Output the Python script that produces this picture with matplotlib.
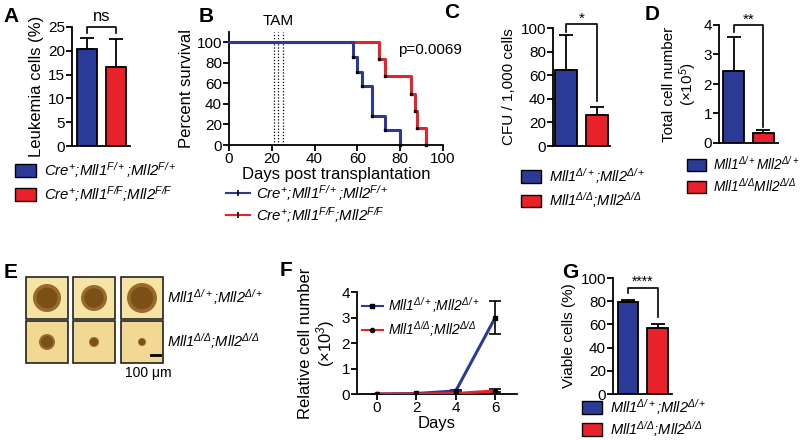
import matplotlib
matplotlib.use("Agg")
import matplotlib.pyplot as plt
from matplotlib.patches import Patch, Rectangle, Circle
from matplotlib.lines import Line2D

plt.rcParams['font.family'] = ['Liberation Sans', 'DejaVu Sans']
plt.rcParams['mathtext.fontset'] = 'custom'
plt.rcParams['mathtext.rm'] = 'Liberation Sans:italic'
plt.rcParams['mathtext.it'] = 'Liberation Sans:italic'
plt.rcParams['mathtext.bf'] = 'Liberation Sans:bold'
plt.rcParams['font.size'] = 11
plt.rcParams['axes.linewidth'] = 1.3
plt.rcParams['xtick.major.width'] = 1.3
plt.rcParams['ytick.major.width'] = 1.3
plt.rcParams['xtick.major.size'] = 4
plt.rcParams['ytick.major.size'] = 4

BLUE = '#2B3A97'
RED = '#E9212B'

# ---- data ----
# A: leukemia cells (%)
a_means = [20.3, 16.7]
a_errs = [2.4, 5.8]
# B: survival curves (days, percent)
b_blue_days = [0, 58, 60, 62, 67, 73, 80]
b_blue_surv = [100, 85.7, 71.4, 57.1, 28.6, 14.3, 0]
b_red_days = [0, 70, 73, 85, 87, 88, 92]
b_red_surv = [100, 83.3, 66.7, 50, 33.3, 16.7, 0]
tam_days = [21, 23, 25]
# C: CFU / 1,000 cells
c_means = [64, 26]
c_errs = [30, 7]
# D: total cell number (x10^5)
d_means = [2.45, 0.33]
d_errs = [1.13, 0.12]
# E: colony radii (px) per row
e_radii = [[14, 13, 15], [8, 5, 4]]
# F: relative cell number (x10^3)
f_days = [0, 2, 4, 6]
f_blue = [0.0, 0.02, 0.12, 3.0]
f_blue_err = [0, 0, 0.03, 0.65]
f_red = [0.0, 0.0, 0.02, 0.12]
f_red_err = [0, 0, 0.01, 0.06]
# G: viable cells (%)
g_means = [79.5, 57]
g_errs = [1.5, 3.5]

lab_cre = [r'Cre$^{+}$;Mll1$^{F/+}$;Mll2$^{F/+}$',
           r'Cre$^{+}$;Mll1$^{F/F}$;Mll2$^{F/F}$']
lab_del = [r'Mll1$^{\Delta/+}$;Mll2$^{\Delta/+}$',
           r'Mll1$^{\Delta/\Delta}$;Mll2$^{\Delta/\Delta}$']
lab_del2 = [r'Mll1$^{\Delta/+}$Mll2$^{\Delta/+}$',
            r'Mll1$^{\Delta/\Delta}$Mll2$^{\Delta/\Delta}$']

W, H = 800, 440
fig = plt.figure(figsize=(8, 4.4), dpi=100)


def box(l, t, r, b):
    return [l / W, 1 - b / H, (r - l) / W, (b - t) / H]


def clean(ax):
    ax.spines['top'].set_visible(False)
    ax.spines['right'].set_visible(False)
    ax.tick_params(direction='out', labelsize=11, pad=1)


def bars(ax, means, errs, width):
    x = [0, 1]
    ax.bar(x, means, width=width, color=[BLUE, RED], edgecolor='black', linewidth=1.3, zorder=2)
    ax.errorbar(x, means, yerr=[[0, 0], errs], fmt='none', ecolor='black',
                elinewidth=1.3, capsize=5, capthick=1.3, zorder=1)
    ax.set_xticks([])


def bracket(ax, y_left, y_top, y_right, text, fs=11, dy=0.0):
    ax.plot([0, 0, 1, 1], [y_left, y_top, y_top, y_right], color='black', lw=1.2, clip_on=False)
    ax.text(0.5, y_top + dy, text, ha='center', va='bottom', fontsize=fs)


def ital(size):
    return dict(style='italic', size=size)


def square_legend(labels, anchor, size=10.5, spacing=0.3):
    handles = [Patch(facecolor=c, edgecolor='black', linewidth=1.0) for c in (BLUE, RED)]
    fig.legend(handles, labels, loc='upper left', bbox_to_anchor=anchor,
               frameon=False, prop=ital(size), handlelength=1.4, handleheight=0.95,
               handletextpad=0.5, labelspacing=spacing, borderpad=0, borderaxespad=0)


# ---- A ----
axA = fig.add_axes(box(72, 27, 130, 146))
bars(axA, a_means, a_errs, 0.69)
axA.set_xlim(-0.52, 1.48)
axA.set_ylim(0, 25)
axA.set_yticks([0, 5, 10, 15, 20, 25])
axA.set_ylabel('Leukemia cells (%)', fontsize=12, labelpad=3)
clean(axA)
bracket(axA, 23.8, 25, 23.8, 'ns', fs=12, dy=0.6)
square_legend(lab_cre, (15 / W, 1 - 160 / H), 10.8)

# ---- B ----
axB = fig.add_axes(box(229, 32, 443, 145))
for d in tam_days:
    axB.plot([d, d], [0, 110], color='black', lw=0.9, ls=(0, (1, 1.5)), zorder=1)
axB.step(b_red_days, b_red_surv, where='post', color=RED, lw=2.2, clip_on=False, zorder=2)
axB.step(b_blue_days, b_blue_surv, where='post', color=BLUE, lw=2.2, clip_on=False, zorder=3)
axB.plot(b_red_days[1:], b_red_surv[1:], ls='none', marker='s', ms=1.8, color='black', zorder=4, clip_on=False)
axB.plot(b_blue_days[1:], b_blue_surv[1:], ls='none', marker='s', ms=1.8, color='black', zorder=4, clip_on=False)
axB.set_xlim(0, 100)
axB.set_ylim(0, 110)
axB.set_xticks([0, 20, 40, 60, 80, 100])
axB.set_yticks([0, 20, 40, 60, 80, 100])
axB.set_xlabel('Days post transplantation', fontsize=12, labelpad=1)
axB.set_ylabel('Percent survival', fontsize=12, labelpad=2)
clean(axB)
axB.text(23, 114, 'TAM', ha='center', va='bottom', fontsize=11)
axB.text(79, 92, 'p=0.0069', ha='left', va='center', fontsize=11)
b_handles = [Line2D([], [], color=c, lw=1.5, marker='|', ms=4, mec='black', mew=1.2) for c in (BLUE, RED)]
fig.legend(b_handles, lab_cre, loc='upper left', bbox_to_anchor=(226 / W, 1 - 183 / H),
           frameon=False, prop=ital(10.8), handlelength=1.6, handletextpad=0.4,
           labelspacing=0.15, borderpad=0, borderaxespad=0)

# ---- C ----
axC = fig.add_axes(box(553, 28, 610, 146))
bars(axC, c_means, c_errs, 0.72)
axC.set_xlim(-0.43, 1.44)
axC.set_ylim(0, 100)
axC.set_yticks([0, 20, 40, 60, 80, 100])
axC.set_ylabel('CFU / 1,000 cells', fontsize=11, labelpad=3)
clean(axC)
bracket(axC, 97, 103, 38, '*', fs=11, dy=-1)
square_legend(lab_del, (521 / W, 1 - 166 / H))

# ---- D ----
axD = fig.add_axes(box(719, 25, 778, 143))
bars(axD, d_means, d_errs, 0.71)
axD.set_xlim(-0.49, 1.5)
axD.set_ylim(0, 4)
axD.set_yticks([0, 1, 2, 3, 4])
axD.set_ylabel('Total cell number\n(×10$\\mathrm{^{5}}$)', fontsize=11, labelpad=3, linespacing=1.1)
clean(axD)
bracket(axD, 3.75, 4.0, 0.55, '**', fs=11, dy=-0.05)
square_legend(lab_del2, (687 / W, 1 - 155 / H), 9.8)

# ---- E ----
axE = fig.add_axes([0, 0, 1, 1])
axE.set_xlim(0, W)
axE.set_ylim(H, 0)
axE.axis('off')
col_left = [26, 73, 121]
row_top = [277, 321]
bg = ['#F6E4A6', '#F1D893']
for ri, rt in enumerate(row_top):
    for ci, cl in enumerate(col_left):
        axE.add_patch(Rectangle((cl, rt), 42, 42, facecolor=bg[ri], edgecolor='#222222', lw=1.2))
        cx, cy, r = cl + 21, rt + 21, e_radii[ri][ci]
        axE.add_patch(Circle((cx, cy), r, facecolor='#9A6A2A', edgecolor='none'))
        axE.add_patch(Circle((cx, cy), r * 0.75, facecolor='#7A5018', edgecolor='none'))
axE.plot([151, 160], [355, 355], color='black', lw=2)
axE.text(148, 373, '100 μm', ha='center', va='center', fontsize=10)
axE.text(167, 297, lab_del[0], ha='left', va='center', fontsize=10.5, fontstyle='italic')
axE.text(167, 341, lab_del[1], ha='left', va='center', fontsize=10.5, fontstyle='italic')

# ---- F ----
axF = fig.add_axes(box(357, 292, 517, 394))
axF.errorbar(f_days, f_blue, yerr=f_blue_err, color=BLUE, lw=2.2, marker='s', ms=3,
             mfc='black', mec='black', ecolor='black', elinewidth=1.2, capsize=4, capthick=1.2, zorder=3)
axF.errorbar(f_days, f_red, yerr=f_red_err, color=RED, lw=2.2, marker='o', ms=3,
             mfc='black', mec='black', ecolor='black', elinewidth=1.2, capsize=4, capthick=1.2, zorder=4)
axF.set_xlim(-1, 7.1)
axF.set_ylim(0, 4)
axF.set_xticks(f_days)
axF.set_yticks([0, 1, 2, 3, 4])
axF.set_xlabel('Days', fontsize=12, labelpad=1)
axF.set_ylabel('Relative cell number\n(×10$\\mathrm{^{3}}$)', fontsize=12, labelpad=3, linespacing=1.1)
clean(axF)
f_handles = [Line2D([], [], color=BLUE, lw=1.5, marker='s', ms=3, mfc='black', mec='black'),
             Line2D([], [], color=RED, lw=1.5, marker='o', ms=3, mfc='black', mec='black')]
axF.legend(f_handles, lab_del, loc='upper left', bbox_to_anchor=(0.03, 0.97), frameon=False,
           prop=ital(10), handlelength=1.5, handletextpad=0.4, labelspacing=0.3,
           borderpad=0, borderaxespad=0)

# ---- G ----
axG = fig.add_axes(box(613, 278, 672, 394))
bars(axG, g_means, g_errs, 0.69)
axG.set_xlim(-0.51, 1.49)
axG.set_ylim(0, 100)
axG.set_yticks([0, 20, 40, 60, 80, 100])
axG.set_ylabel('Viable cells (%)', fontsize=11, labelpad=3)
clean(axG)
bracket(axG, 87, 91, 66, '****', fs=10, dy=0)
square_legend(lab_del, (582 / W, 1 - 397 / H), 10.5, 0.15)

# ---- panel letters ----
for lx, ly, s in [(3, 17, 'A'), (199, 17, 'B'), (444, 13, 'C'), (645, 14, 'D'),
                  (4, 272, 'E'), (280, 270, 'F'), (562, 272, 'G')]:
    fig.text(lx / W, 1 - ly / H, s, fontsize=15, fontweight='bold', ha='left', va='center')

fig.savefig('out.png', dpi=100)
